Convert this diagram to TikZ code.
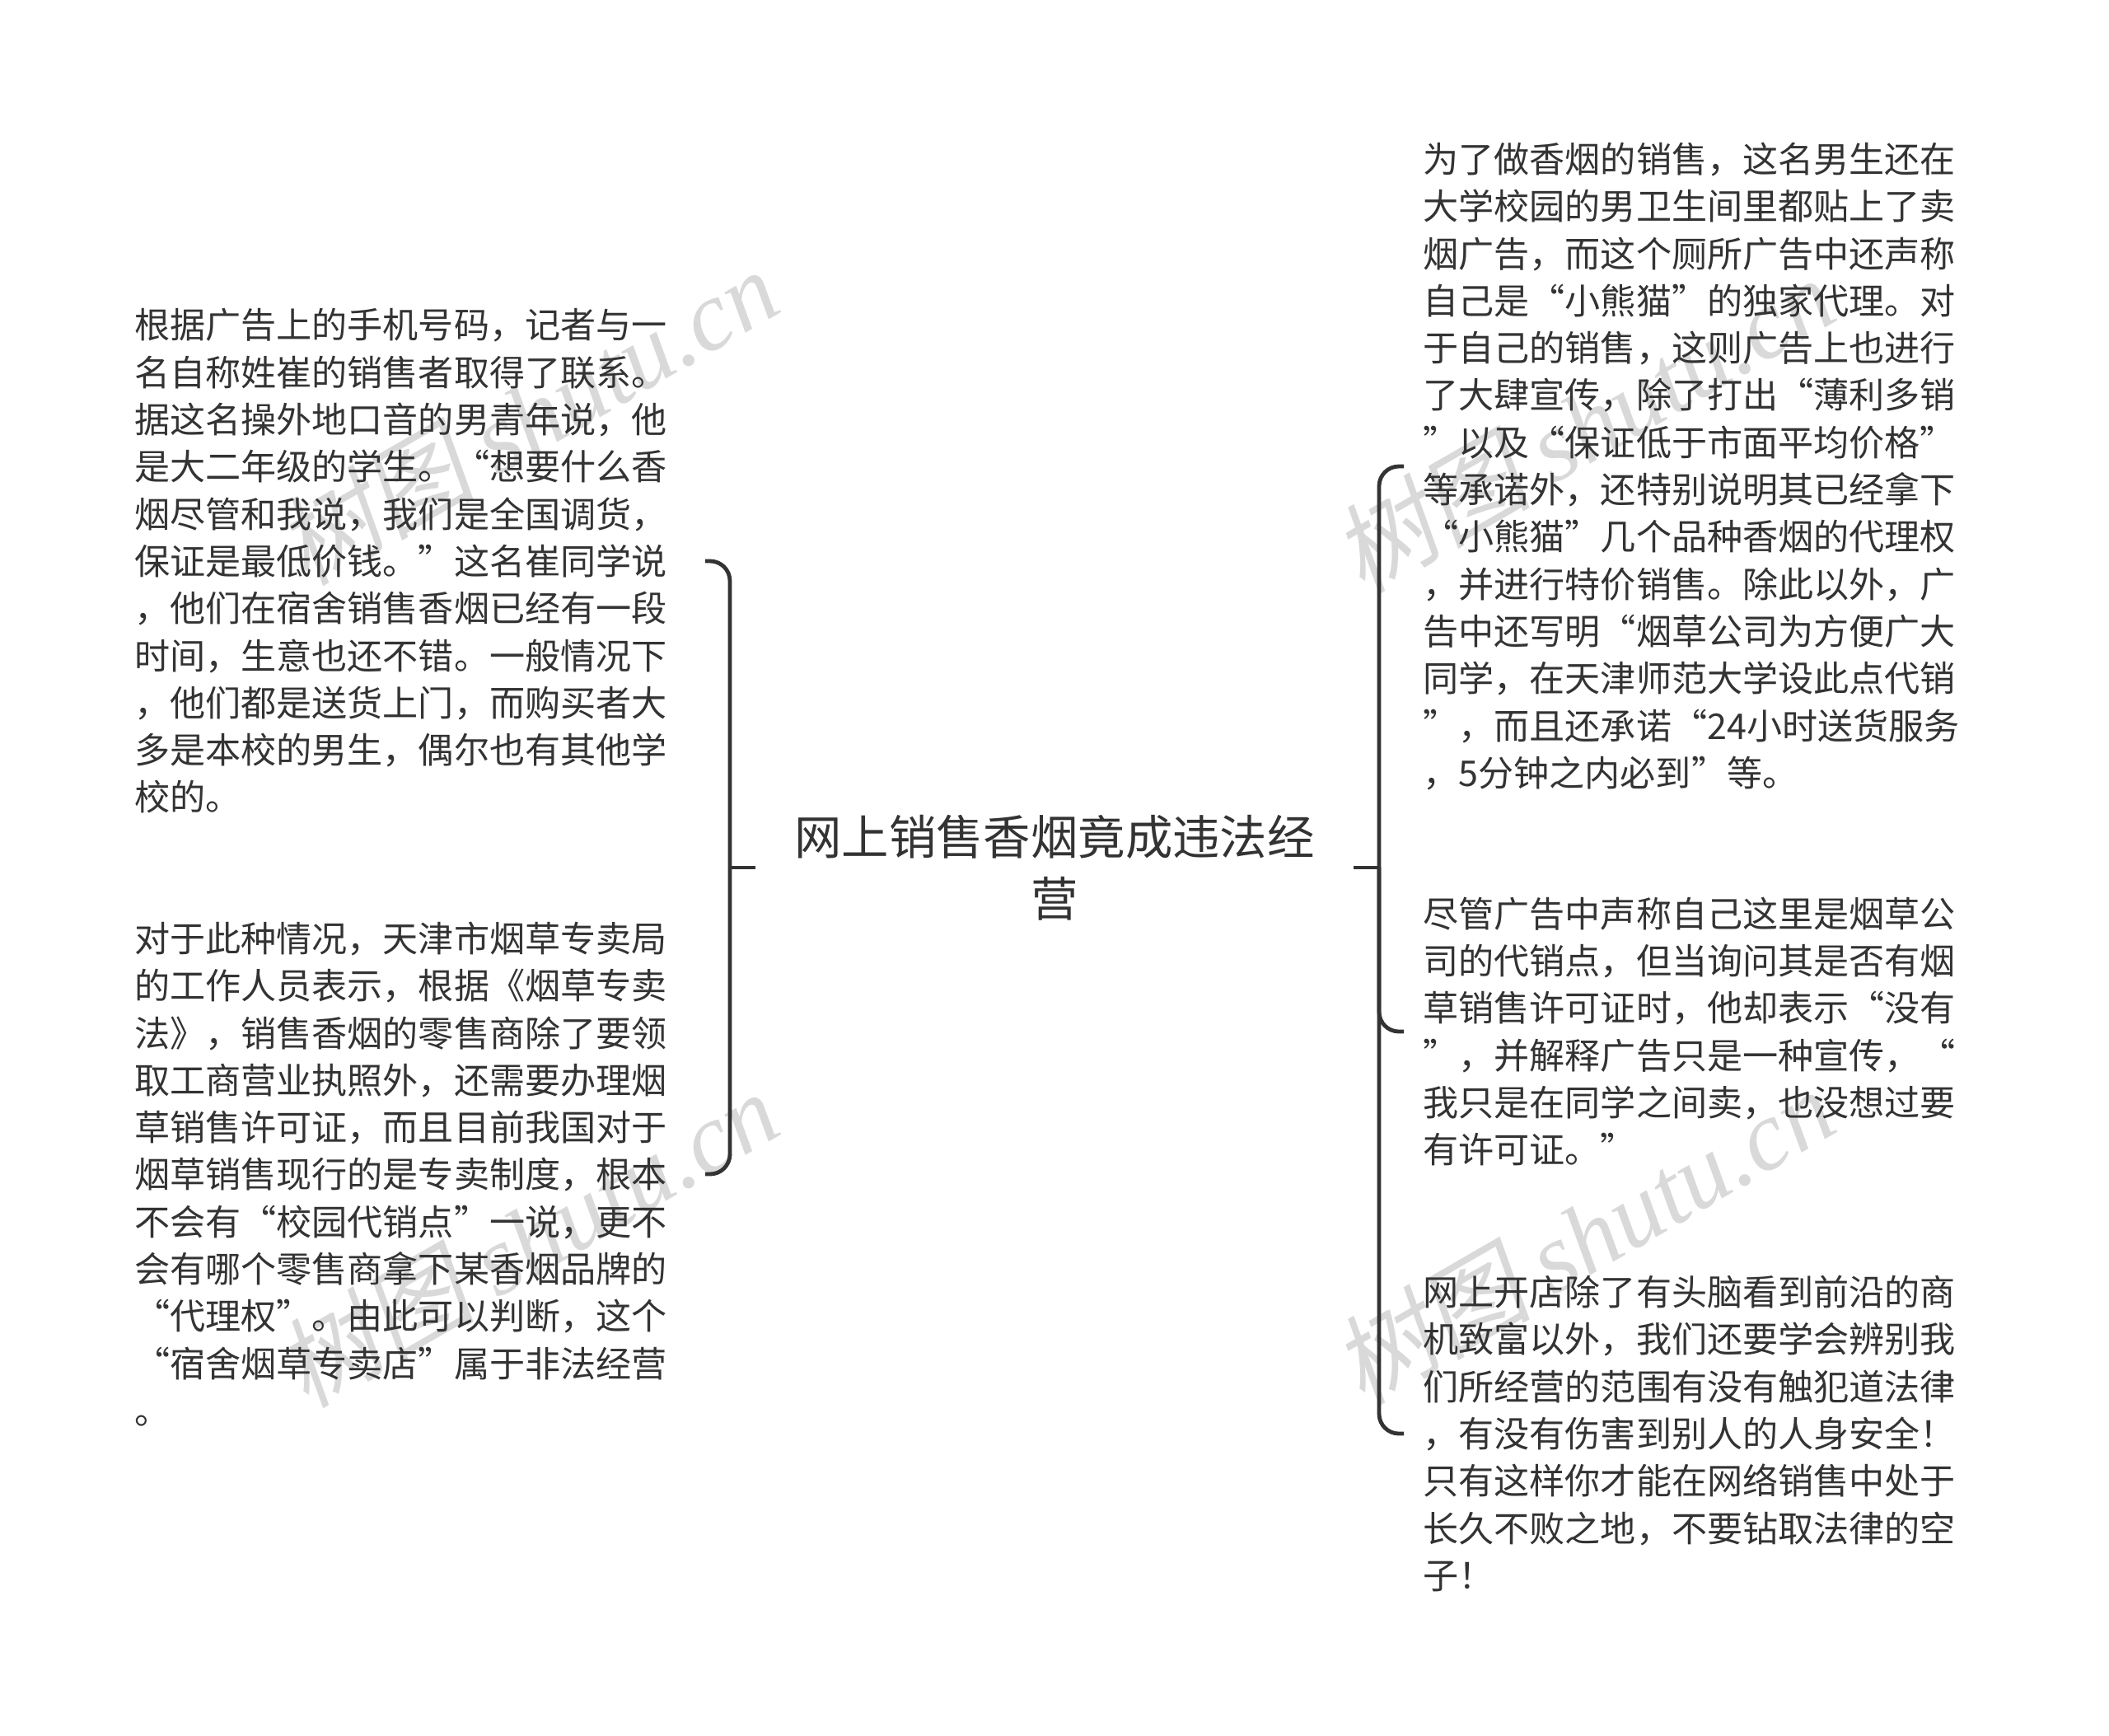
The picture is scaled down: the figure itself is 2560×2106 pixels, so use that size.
\documentclass[tikz,border=0pt]{standalone}
\usepackage{fontspec}
\setmainfont{Noto Sans CJK SC}
\newfontfamily\wmlatin{Liberation Serif}
\newfontfamily\wmcjk{Noto Sans CJK SC}[FakeSlant=0.18]
\definecolor{ink}{HTML}{333333}
\definecolor{wm}{HTML}{D9D9D9}
\tikzset{
  blocktext/.style={font=\fontsize{21.55pt}{28.65pt}\selectfont, text=ink, align=left, inner ysep=0pt},
  leftblock/.style={blocktext, anchor=east, inner xsep=23pt},
  rightblock/.style={blocktext, anchor=west, inner xsep=11.5pt},
  roottext/.style={font=\fontsize{28.7pt}{37.5pt}\selectfont, text=ink, align=center, minimum width=363pt, inner sep=0pt},
  conn/.style={draw=ink, line width=2.4pt, rounded corners=12pt},
  watermark/.style={font=\fontsize{60pt}{60pt}\selectfont, text=wm, rotate=30, inner sep=0pt},
}
\newcommand{\wmtext}{{\wmcjk 树图} {\wmlatin\itshape shutu.cn}}
\begin{document}
\begin{tikzpicture}[x=0.5pt,y=-0.5pt]
\useasboundingbox (0,0) rectangle (2560,2106);
\node[watermark] (wa) at (640,505) {\wmtext};
\node[watermark] (wb) at (640,1503) {\wmtext};
\node[watermark] (wc) at (1922,515) {\wmtext};
\node[watermark] (wd) at (1922,1500) {\wmtext};
\node[roottext] (root) at (1280,1053) {网上销售香烟竟成违法经\\营};
\node[leftblock] (la) at (856,681) {根据广告上的手机号码，记者与一\\名自称姓崔的销售者取得了联系。\\据这名操外地口音的男青年说，他\\是大二年级的学生。“想要什么香\\烟尽管和我说，我们是全国调货，\\保证是最低价钱。”这名崔同学说\\，他们在宿舍销售香烟已经有一段\\时间，生意也还不错。一般情况下\\，他们都是送货上门，而购买者大\\多是本校的男生，偶尔也有其他学\\校的。};
\node[leftblock] (lb) at (856,1425) {对于此种情况，天津市烟草专卖局\\的工作人员表示，根据《烟草专卖\\法》，销售香烟的零售商除了要领\\取工商营业执照外，还需要办理烟\\草销售许可证，而且目前我国对于\\烟草销售现行的是专卖制度，根本\\不会有“校园代销点”一说，更不\\会有哪个零售商拿下某香烟品牌的\\“代理权”。由此可以判断，这个\\“宿舍烟草专卖店”属于非法经营\\。};
\node[rightblock] (ra) at (1704,566) {为了做香烟的销售，这名男生还在\\大学校园的男卫生间里都贴上了卖\\烟广告，而这个厕所广告中还声称\\自己是“小熊猫”的独家代理。对\\于自己的销售，这则广告上也进行\\了大肆宣传，除了打出“薄利多销\\”以及“保证低于市面平均价格”\\等承诺外，还特别说明其已经拿下\\“小熊猫”几个品种香烟的代理权\\，并进行特价销售。除此以外，广\\告中还写明“烟草公司为方便广大\\同学，在天津师范大学设此点代销\\”，而且还承诺“24小时送货服务\\，5分钟之内必到”等。};
\node[rightblock] (rb) at (1704,1252) {尽管广告中声称自己这里是烟草公\\司的代销点，但当询问其是否有烟\\草销售许可证时，他却表示“没有\\”，并解释广告只是一种宣传，“\\我只是在同学之间卖，也没想过要\\有许可证。”};
\node[rightblock] (rc) at (1704,1740) {网上开店除了有头脑看到前沿的商\\机致富以外，我们还要学会辨别我\\们所经营的范围有没有触犯道法律\\，有没有伤害到别人的人身安全！\\只有这样你才能在网络销售中处于\\长久不败之地，不要钻取法律的空\\子！};
\coordinate (jl) at (886,1053);
\coordinate (jr) at (1674,1053);
\draw[conn] (root.west) -- (jl);
\draw[conn] (root.east) -- (jr);
\draw[conn] (la.east) -- (la.east -| jl) -- (lb.east -| jl) -- (lb.east);
\draw[conn] (ra.west) -- (ra.west -| jr) -- (rc.west -| jr) -- (rc.west);
\draw[conn] (jr) -- (rb.west -| jr) -- (rb.west);
\end{tikzpicture}
\end{document}
